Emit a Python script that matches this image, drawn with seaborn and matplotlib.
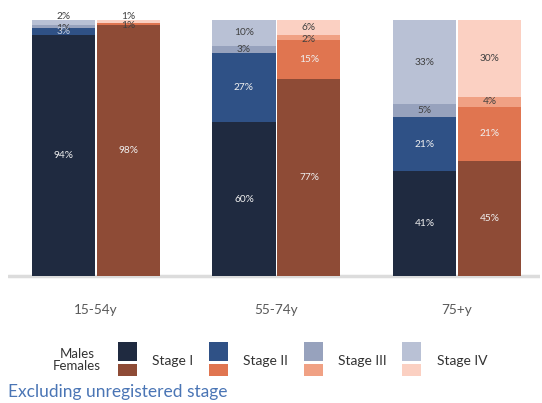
import matplotlib
matplotlib.use("Agg")
import matplotlib.pyplot as plt
import seaborn as sns
import pandas as pd
from matplotlib.patches import Rectangle

ages = ["15-54y", "55-74y", "75+y"]
sexes = ["Males", "Females"]
stages = ["Stage I", "Stage II", "Stage III", "Stage IV"]
males_stage1 = [94, 60, 41]
males_stage2 = [3, 27, 21]
males_stage3 = [1, 3, 5]
males_stage4 = [2, 10, 33]
females_stage1 = [98, 77, 45]
females_stage2 = [1, 15, 21]
females_stage3 = [0, 2, 4]
females_stage4 = [1, 6, 30]
male_colors = ["#1f2a40", "#2f5186", "#97a2bd", "#b9c1d5"]
female_colors = ["#8e4b36", "#e07550", "#f0a184", "#fbd0c2"]
footnote = "Excluding unregistered stage"

sns.set_theme(style="white")
plt.rcParams["font.family"] = ["Lato", "DejaVu Sans"]

vals = {
    "Males": [males_stage1, males_stage2, males_stage3, males_stage4],
    "Females": [females_stage1, females_stage2, females_stage3, females_stage4],
}
rows = []
for sex in sexes:
    for a, age in enumerate(ages):
        cum = 0
        for k, st in enumerate(stages):
            v = vals[sex][k][a]
            cum += v
            rows.append(dict(age=age, sex=sex, stage=st, value=v, cum=cum))
df = pd.DataFrame(rows)

W, H = 542, 403
fig = plt.figure(figsize=(W / 100, H / 100), dpi=100)

def fx(x):
    return x / W

def fy(y):
    return 1 - y / H

ax_left, ax_right, ax_top, ax_bot = 8, 540, 20, 279
ax = fig.add_axes([fx(ax_left), fy(ax_bot), (ax_right - ax_left) / W, (ax_bot - ax_top) / H])

ax.axhline(0, color="#dcdcdc", lw=2.5, zorder=0)

for k in reversed(range(4)):
    sub = df[df["stage"] == stages[k]]
    sns.barplot(data=sub, x="age", y="cum", hue="sex", order=ages, hue_order=sexes,
                palette={"Males": male_colors[k], "Females": female_colors[k]},
                width=0.72, gap=0.03, dodge=True, legend=False, saturation=1,
                linewidth=0, errorbar=None, ax=ax, zorder=2)

# labels
for i, cont in enumerate(ax.containers):
    k = 3 - i // 2
    sex = sexes[i % 2]
    for p in cont.patches:
        xc = p.get_x() + p.get_width() / 2
        a = int(round(xc))
        row = df[(df["age"] == ages[a]) & (df["sex"] == sex) & (df["stage"] == stages[k])].iloc[0]
        v = row["value"]
        if v <= 0:
            continue
        yc = row["cum"] - v / 2
        if k == 3 and v < 3:
            yc = row["cum"] + 1.5
        elif v < 3:
            yc = yc - 0.8
        col = "#f0f0f0" if k < 2 else "#404040"
        if v < 5 and k == 1:
            col = "#c9d3e6" if sex == "Males" else "#404040"
        ax.text(xc, yc, f"{v}%", ha="center", va="center", fontsize=7.3, color=col, zorder=5)

ax.set_xlim(-0.4875, 2.46)
ax.set_ylim(-1.17, 100)
ax.set_yticks([])
ax.set_xlabel("")
ax.set_ylabel("")
ax.tick_params(axis="x", length=0, pad=18, labelsize=9.8, labelcolor="#595959")
for s in ax.spines.values():
    s.set_visible(False)

# legend
fig.text(fx(77), fy(354), "Males", ha="center", va="center", fontsize=9.5, color="#333333")
fig.text(fx(77), fy(366), "Females", ha="center", va="center", fontsize=9.5, color="#333333")
sq_x = [118, 209, 304, 402]
txt_x = [152, 243, 338, 437]
for k in range(4):
    fig.patches.append(Rectangle((fx(sq_x[k]), fy(361)), 19 / W, 19 / H,
                                 transform=fig.transFigure, color=male_colors[k], lw=0))
    fig.patches.append(Rectangle((fx(sq_x[k]), fy(376)), 19 / W, 12 / H,
                                 transform=fig.transFigure, color=female_colors[k], lw=0))
    fig.text(fx(txt_x[k]), fy(361), stages[k], ha="left", va="center", fontsize=10, color="#333333")

fig.text(fx(8), fy(392), footnote, ha="left", va="center", fontsize=12.5, color="#4a75b5")

fig.savefig("out.png", dpi=100)
